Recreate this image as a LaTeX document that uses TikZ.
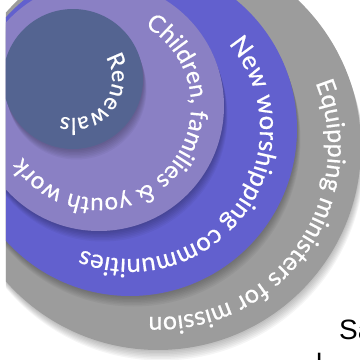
\documentclass[tikz,border=0pt]{standalone}
\usepackage{fontspec}
\setmainfont{Lato}
\newfontfamily\arialf{Liberation Sans}
\usetikzlibrary{decorations.text,calc}
\definecolor{graycol}{HTML}{9C9C9C}
\definecolor{bluecol}{HTML}{6260CE}
\definecolor{lavcol}{HTML}{8A80C4}
\definecolor{darkcol}{HTML}{546491}
\tikzset{
  ringtext/.style={decorate,decoration={text along path,text align=center,text color=white,text={#1}}},
}
\newcommand{\softshadow}[2]{%
  \foreach \i in {1,...,7}{\fill[black,opacity=0.04] ($(#1)+(0.5*\i,-1.5*\i)$) circle (#2);}}
\newcommand{\rf}[1]{\fontsize{#1}{#1}\selectfont\addfontfeature{FakeBold=0.6}}
\begin{document}
\begin{tikzpicture}[x=1pt,y=1pt]
\useasboundingbox (0,0) rectangle (360,360);
\coordinate (cg) at (158,213);
\coordinate (cb) at (130,231);
\coordinate (cl) at (99,254);
\coordinate (cd) at (73,281);
\begin{scope}
\clip (6,0) rectangle (360,360);
\softshadow{cg}{203}
\fill[graycol] (cg) circle (203);
\softshadow{cb}{167}
\fill[bluecol] (cb) circle (167);
\softshadow{cl}{125}
\fill[lavcol] (cl) circle (125);
\softshadow{cd}{70}
\fill[darkcol] (cd) circle (70);
\path[ringtext={|\rf{25}|Equipping ministers for mission}]
  ($(cg)+(60:170)$) arc[start angle=60,end angle=-131,radius=170];
\path[ringtext={|\rf{25.5}|New worshipping communities}]
  ($(cb)+(90:130)$) arc[start angle=90,end angle=-161,radius=130];
\path[ringtext={|\rf{24}|Children, families {\&} youth work}]
  ($(cl)+(100:92)$) arc[start angle=100,end angle=-186,radius=92];
\path[ringtext={|\rf{23}|Renewals}]
  ($(cd)+(60:39)$) arc[start angle=60,end angle=-134,radius=39];
\end{scope}
\begin{scope}
\clip (0,0) rectangle (360,360);
\node[anchor=base west,inner sep=0pt,font=\arialf\fontsize{28}{32}\selectfont] (sa) at (339,20) {Sa};
\node[anchor=base west,inner sep=0pt,font=\arialf\fontsize{28}{32}\selectfont] (el) at (316,-13) {l};
\end{scope}
\end{tikzpicture}
\end{document}
